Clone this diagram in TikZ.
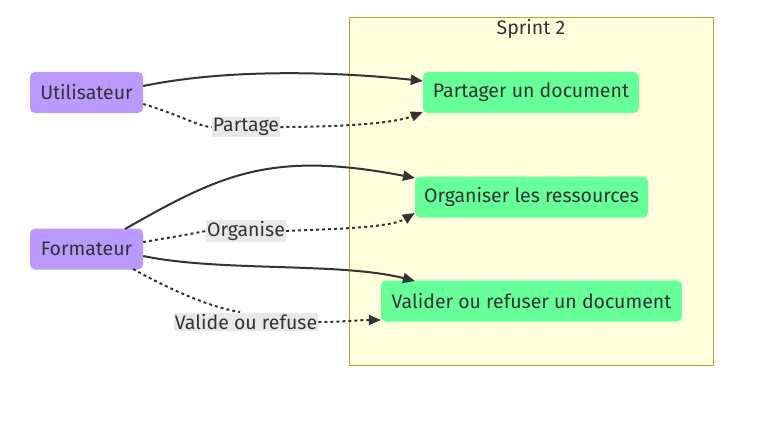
\documentclass[tikz,border=0pt]{standalone}
\usepackage{fontspec}
\setmainfont{Fira Sans}
\usetikzlibrary{arrows.meta}
\definecolor{actor}{HTML}{BB99FF}
\definecolor{uc}{HTML}{66FF99}
\definecolor{txt}{HTML}{333333}
\definecolor{sbfill}{HTML}{FFFFDE}
\definecolor{sbdraw}{HTML}{AAAA33}
\definecolor{lblbg}{HTML}{E8E8E8}
\tikzset{
  x=1pt,y=-1pt,
  myfont/.style={font=\fontsize{19.5}{22}\selectfont},
  actorbox/.style={fill=actor,rounded corners=5pt,minimum height=41pt,minimum width=113pt,text=txt,myfont,inner sep=0pt},
  ucbox/.style={fill=uc,rounded corners=5pt,minimum height=41pt,text=txt,myfont,inner xsep=4pt},
  seg/.style={draw=txt,line width=2pt},
  conn/.style={seg,-{Triangle[length=12pt,width=10pt]}},
  dotseg/.style={seg,dash pattern=on 3pt off 3pt},
  dotconn/.style={conn,dash pattern=on 3pt off 3pt},
  lbl/.style={fill=lblbg,text=txt,myfont,inner sep=1pt},
}
\begin{document}
\begin{tikzpicture}
\useasboundingbox (0,0) rectangle (768,421);
\draw[fill=sbfill,draw=sbdraw,line width=1pt] (349,17) rectangle (713,365);
\node[text=txt,myfont] (sp) at (531,29) {Sprint 2};
\node[actorbox] (u) at (86.5,92.5) {Utilisateur};
\node[actorbox] (f) at (86.5,249) {Formateur};
\node[ucbox,minimum width=216pt] (p) at (531,92.5) {Partager un document};
\node[ucbox,minimum width=233pt] (o) at (531.5,197) {Organiser les ressources};
\node[ucbox,minimum width=301pt] (v) at (531.5,301) {Valider ou refuser un document};
\node[lbl] (l1) at (246,127) {Partage};
\node[lbl] (l2) at (246,231) {Organise};
\node[lbl] (l3) at (246,322) {Valide ou refuse};
% solid
\draw[conn] (u.east|-0,86) .. controls (230,68) and (340,72) .. (p.west|-0,81);
\draw[conn] (125,229) .. controls (220,175) and (270,150) .. (415,178);
\draw[conn] (f.east|-0,256) .. controls (220,272) and (340,262) .. (415,281);
% dotted
\draw[dotseg] (u.east|-0,104) .. controls (180,115) and (200,127) .. (l1.west);
\draw[dotconn] (l1.east) .. controls (320,127) and (390,125) .. (p.west|-0,112);
\draw[dotseg] (f.east|-0,242) .. controls (180,236) and (195,233) .. (l2.west);
\draw[dotconn] (l2.east) .. controls (330,229) and (390,228) .. (o.west|-0,213);
\draw[dotseg] (133,269) .. controls (180,295) and (215,308) .. (240,312);
\draw[dotconn] (l3.east) .. controls (340,322) and (360,320) .. (v.west|-0,320);
\end{tikzpicture}
\end{document}
